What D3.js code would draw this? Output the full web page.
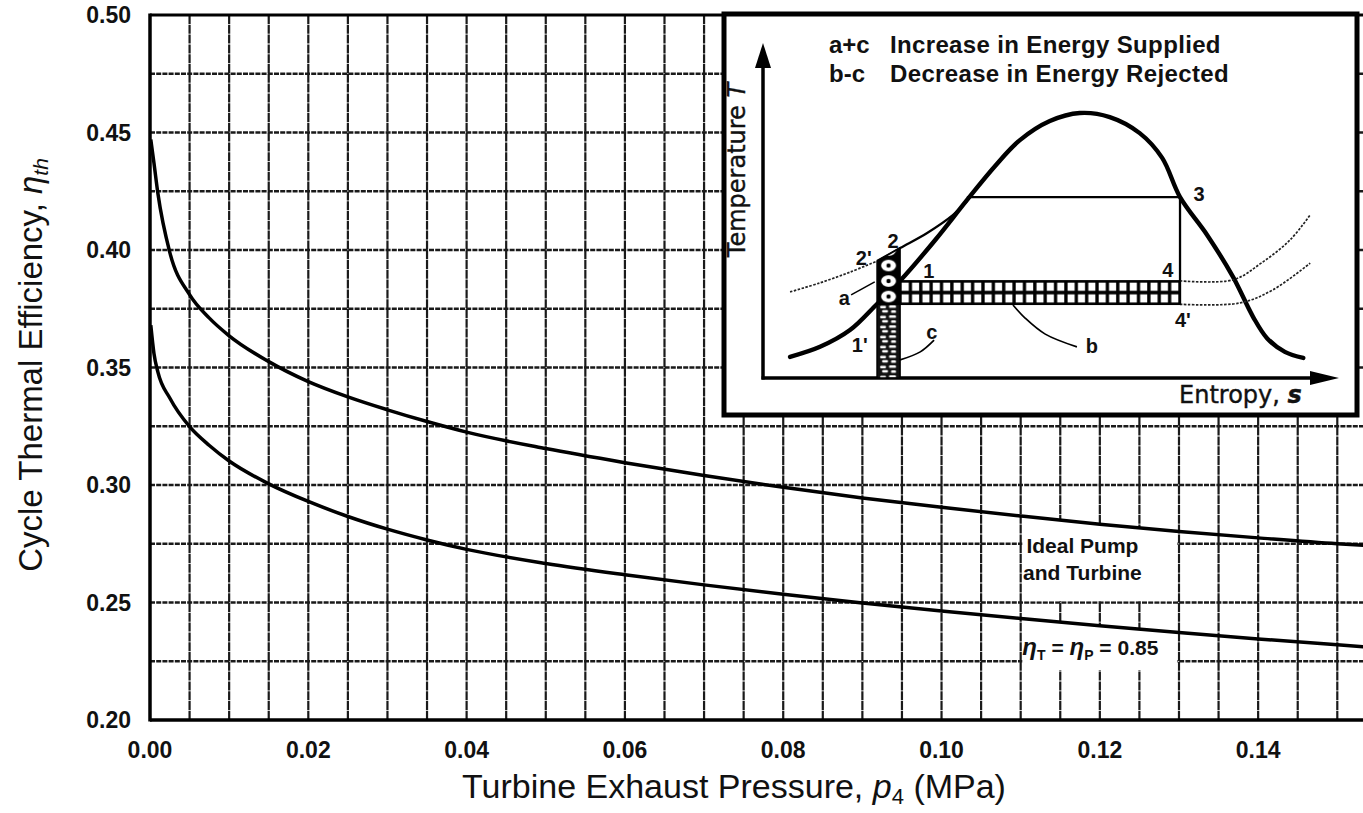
<!DOCTYPE html>
<html>
<head>
<meta charset="utf-8">
<script src="https://cdn.jsdelivr.net/npm/d3@7"></script>
<style>
  html, body { margin: 0; padding: 0; background: #fff; }
  svg { display: block; }
</style>
</head>
<body>
<svg id="chart" width="1363" height="813"></svg>
<script>
// ---- main chart data (p4 in MPa, cycle thermal efficiency) ----
const pressure  = [0.0001, 0.0005, 0.001, 0.0025, 0.005, 0.0075, 0.01, 0.015, 0.02, 0.025, 0.03, 0.035, 0.04, 0.05, 0.06, 0.07, 0.08, 0.09, 0.10, 0.11, 0.12, 0.13, 0.14, 0.15, 0.155];
const etaIdeal  = [0.447, 0.437, 0.424, 0.399, 0.381, 0.371, 0.3635, 0.3525, 0.344, 0.3375, 0.332, 0.327, 0.3225, 0.3155, 0.3095, 0.304, 0.299, 0.2945, 0.2905, 0.2868, 0.2833, 0.2802, 0.2775, 0.2750, 0.2740];
const etaReal   = [0.368, 0.356, 0.348, 0.337, 0.3248, 0.3168, 0.3102, 0.3005, 0.2930, 0.2866, 0.2812, 0.2766, 0.2726, 0.2666, 0.2618, 0.2575, 0.2535, 0.2498, 0.2464, 0.2432, 0.2401, 0.2372, 0.2345, 0.2320, 0.2308];
const xTicks = [0.00, 0.02, 0.04, 0.06, 0.08, 0.10, 0.12, 0.14];
const yTicks = [0.20, 0.25, 0.30, 0.35, 0.40, 0.45, 0.50];

// ---- inset T-s sketch (entropy s, temperature T on a 0..100 sketch scale) ----
const domeS = [4.7, 9.9, 15.1, 19.8, 23.8, 29.9, 35.4, 40.3, 44.6, 49.8, 55.0, 60.2, 65.4, 69.3, 72.4, 77.1, 81.6, 85.1, 87.5, 90.6, 93.8];
const domeT = [6.3, 9.3, 14.3, 22.1, 29.0, 41.2, 53.1, 63.3, 71.0, 76.7, 79.1, 77.9, 73.1, 65.7, 54.0, 42.7, 30.2, 18.2, 11.9, 7.8, 6.0];
const heatS = [4.7, 9.9, 15.1, 19.8, 23.8, 28.5, 33.0, 35.4];
const heatT = [25.7, 28.4, 31.6, 34.9, 38.8, 43.3, 48.7, 52.8];
const cycle = { s1: 23.8, sBoil: 35.4, s3: 72.4, sPump: 19.8, T3: 54.0, T4: 29.0, T4p: 22.0 };
const isoUpS = [72.4, 81.6, 86.5, 91.5, 95.0], isoUpT = [29.0, 29.3, 34.3, 41.2, 48.7];
const isoLoS = [72.4, 82.8, 88.5, 95.0],       isoLoT = [22.0, 22.4, 26.3, 34.3];
const leaderA = [[15.3, 24.8], [19.4, 28.7]];
const leaderC = [[23.8, 5.4], [27.3, 7.8], [29.7, 11.3]];
const leaderB = [[43.4, 21.8], [45.5, 17.9], [49.0, 13.1], [54.5, 9.3]];
const pointLabels = [
  { text: "2'", s: 17.5, T: 35.8 }, { text: "2", s: 22.6, T: 40.9 },
  { text: "1", s: 28.8, T: 31.9 },  { text: "a", s: 14.1, T: 23.9 },
  { text: "1'", s: 16.8, T: 9.9 },  { text: "c", s: 29.3, T: 13.7 },
  { text: "b", s: 57.1, T: 9.6 },   { text: "3", s: 75.7, T: 54.9 },
  { text: "4", s: 70.3, T: 32.2 },  { text: "4'", s: 72.9, T: 17.3 }
];
const legendKeys  = ["a+c", "b-c"];
const legendTexts = ["Increase in Energy Supplied", "Decrease in Energy Rejected"];

const svg = d3.select("#chart");
const defs = svg.append("defs");

const x = d3.scaleLinear().domain([0, 0.1535]).range([150, 1365]);
const y = d3.scaleLinear().domain([0.20, 0.50]).range([720, 15]);

// grid
const grid = svg.append("g");
grid.selectAll("line.v").data(d3.range(1, 31).map(i => i * 0.005)).enter()
  .append("line").attr("class", "v")
  .attr("x1", d => x(d)).attr("x2", d => x(d))
  .attr("y1", y(0.5)).attr("y2", y(0.2))
  .attr("stroke", "#1a1a1a").attr("stroke-width", 2.2).attr("stroke-dasharray", "9 0.8");
grid.selectAll("line.h").data(d3.range(1, 12).map(i => 0.20 + i * 0.025)).enter()
  .append("line").attr("class", "h")
  .attr("x1", x(0)).attr("x2", 1363)
  .attr("y1", d => y(d)).attr("y2", d => y(d))
  .attr("stroke", "#1a1a1a").attr("stroke-width", 2.3).attr("stroke-dasharray", "5 1.2");

// white boxes behind the curve labels
const pts = (arr) => pressure.map((p, i) => ({ p, v: arr[i] })).filter(d => d.p >= 0.11 && d.p <= 0.13);
defs.append("clipPath").attr("id", "labClip").append("rect")
  .attr("x", x(0.11) + 1.6).attr("width", x(0.13) - x(0.11) - 3.2)
  .attr("y", 0).attr("height", 813);
const maskArea = (y0) => d3.area().x(d => x(d.p)).y0(y(y0)).y1(d => y(d.v));
svg.append("path").datum(pts(etaIdeal)).attr("d", maskArea(0.2505))
  .attr("fill", "#fff").attr("clip-path", "url(#labClip)");
svg.append("path").datum(pts(etaReal)).attr("d", maskArea(0.2212))
  .attr("fill", "#fff").attr("clip-path", "url(#labClip)");

// frame
svg.append("line").attr("x1", x(0)).attr("x2", 1363).attr("y1", y(0.5)).attr("y2", y(0.5))
  .attr("stroke", "#000").attr("stroke-width", 3);
svg.append("line").attr("x1", x(0)).attr("x2", 1363).attr("y1", y(0.2)).attr("y2", y(0.2))
  .attr("stroke", "#000").attr("stroke-width", 3.5);
svg.append("line").attr("x1", x(0)).attr("x2", x(0)).attr("y1", y(0.5) - 1.5).attr("y2", y(0.2) + 1.5)
  .attr("stroke", "#000").attr("stroke-width", 3.5);

// curves
const line = d3.line().x(d => x(d.p)).y(d => y(d.v)).curve(d3.curveMonotoneX);
[etaIdeal, etaReal].forEach(arr => {
  svg.append("path").datum(pressure.map((p, i) => ({ p, v: arr[i] })))
    .attr("d", line).attr("fill", "none").attr("stroke", "#000").attr("stroke-width", 3.5);
});

// tick labels
svg.append("g").selectAll("text").data(xTicks).enter().append("text")
  .attr("x", d => x(d)).attr("y", 758).attr("text-anchor", "middle")
  .attr("font-family", "Liberation Sans, Arial, sans-serif").attr("font-weight", "bold")
  .attr("font-size", 23).attr("fill", "#111").text(d => d.toFixed(2));
svg.append("g").selectAll("text").data(yTicks).enter().append("text")
  .attr("x", 131).attr("y", d => y(d) + 8).attr("text-anchor", "end")
  .attr("font-family", "Liberation Sans, Arial, sans-serif").attr("font-weight", "bold")
  .attr("font-size", 23).attr("fill", "#111").text(d => d.toFixed(2));

// axis titles
const xt = svg.append("text").attr("x", 734).attr("y", 798).attr("text-anchor", "middle")
  .attr("font-family", "Liberation Sans, Arial, sans-serif").attr("font-size", 34).attr("fill", "#111");
xt.append("tspan").text("Turbine Exhaust Pressure, ");
xt.append("tspan").attr("font-style", "italic").text("p");
xt.append("tspan").attr("font-size", 22).attr("dy", 6).text("4");
xt.append("tspan").attr("dy", -6).text(" (MPa)");

const yt = svg.append("text").attr("transform", "translate(42,365) rotate(-90)").attr("text-anchor", "middle")
  .attr("font-family", "Liberation Sans, Arial, sans-serif").attr("font-size", 33).attr("fill", "#111");
yt.append("tspan").text("Cycle Thermal Efficiency, ");
yt.append("tspan").attr("font-style", "italic").text("η");
yt.append("tspan").attr("font-size", 21).attr("dy", 6).attr("font-style", "italic").text("th");

// curve annotations
const ann = svg.append("g").attr("font-family", "Liberation Sans, Arial, sans-serif")
  .attr("font-weight", "bold").attr("font-size", 21).attr("fill", "#111").attr("text-anchor", "middle");
ann.append("text").attr("x", x(0.1178)).attr("y", 553).text("Ideal Pump");
ann.append("text").attr("x", x(0.1178)).attr("y", 580).text("and Turbine");
const etaLab = ann.append("text").attr("x", x(0.1188)).attr("y", 655);
etaLab.append("tspan").attr("font-style", "italic").attr("font-size", 24).text("η");
etaLab.append("tspan").attr("font-size", 14).attr("dy", 5).text("T");
etaLab.append("tspan").attr("dy", -5).text(" = ");
etaLab.append("tspan").attr("font-style", "italic").attr("font-size", 24).text("η");
etaLab.append("tspan").attr("font-size", 14).attr("dy", 5).text("P");
etaLab.append("tspan").attr("dy", -5).text(" = 0.85");

// ---- inset ----
const sS = d3.scaleLinear().domain([0, 100]).range([763, 1339]);
const sT = d3.scaleLinear().domain([0, 100]).range([378, 43]);
const inset = svg.append("g");
inset.append("rect").attr("x", 724).attr("y", 14).attr("width", 633).attr("height", 401)
  .attr("fill", "#fff").attr("stroke", "#000").attr("stroke-width", 5);

// patterns
const cellW = (sS(cycle.s3) - sS(cycle.s1)) / 27, cellH = (sT(cycle.T4p) - sT(cycle.T4)) / 2;
const pb = defs.append("pattern").attr("id", "hatchB").attr("patternUnits", "userSpaceOnUse")
  .attr("x", sS(cycle.s1)).attr("y", sT(cycle.T4)).attr("width", cellW).attr("height", cellH);
pb.append("rect").attr("width", cellW).attr("height", cellH).attr("fill", "#000");
pb.append("rect").attr("x", 1.6).attr("y", 1.8).attr("width", cellW - 3.3).attr("height", cellH - 3.6).attr("fill", "#fff");

const stripW = sS(cycle.s1) - sS(cycle.sPump);
const pa = defs.append("pattern").attr("id", "dotsA").attr("patternUnits", "userSpaceOnUse")
  .attr("x", sS(cycle.sPump)).attr("y", sT(cycle.T4p)).attr("width", stripW).attr("height", 15.5);
pa.append("rect").attr("width", stripW).attr("height", 15.5).attr("fill", "#000");
pa.append("ellipse").attr("cx", stripW / 2).attr("cy", 7.7).attr("rx", 7.5).attr("ry", 5.8).attr("fill", "#fff");
pa.append("circle").attr("cx", stripW / 2).attr("cy", 7.7).attr("r", 2.2).attr("fill", "#000");

const pc = defs.append("pattern").attr("id", "speckC").attr("patternUnits", "userSpaceOnUse")
  .attr("x", sS(cycle.sPump)).attr("y", sT(cycle.T4p)).attr("width", stripW).attr("height", 10);
pc.append("rect").attr("width", stripW).attr("height", 10).attr("fill", "#111");
[[3, 1.5, 6, 2.4], [12, 1, 7, 2.6], [5, 5.8, 6, 2.4], [14, 6, 5, 2.6]].forEach(r =>
  pc.append("rect").attr("x", r[0]).attr("y", r[1]).attr("width", r[2]).attr("height", r[3]).attr("rx", 1.2).attr("fill", "#fff"));

// axes with arrows
inset.append("line").attr("x1", sS(0)).attr("x2", sS(0)).attr("y1", sT(0) + 1.5).attr("y2", sT(93))
  .attr("stroke", "#000").attr("stroke-width", 3.5);
inset.append("line").attr("x1", sS(0) - 1.5).attr("x2", sS(95)).attr("y1", sT(0)).attr("y2", sT(0))
  .attr("stroke", "#000").attr("stroke-width", 3.5);
inset.append("path").attr("d", `M${sS(0)},${sT(100)} L${sS(0) - 8},${sT(100) + 25} L${sS(0) + 8},${sT(100) + 25} Z`).attr("fill", "#000");
inset.append("path").attr("d", `M${sS(100)},${sT(0)} L${sS(100) - 29},${sT(0) - 7} L${sS(100) - 29},${sT(0) + 7} Z`).attr("fill", "#000");

const sketch = d3.line().x(d => sS(d[0])).y(d => sT(d[1]));
const smooth = d3.line().x(d => sS(d[0])).y(d => sT(d[1])).curve(d3.curveCatmullRom.alpha(0.5));
const zip = (a, b) => a.map((v, i) => [v, b[i]]);

// constant-pressure heating line 2'-2 -> boiling (dotted left of the pump)
const heat = zip(heatS, heatT);
inset.append("path").attr("d", smooth(heat.slice(0, 4))).attr("fill", "none")
  .attr("stroke", "#222").attr("stroke-width", 1.7).attr("stroke-dasharray", "2.5 1.5");
inset.append("path").attr("d", smooth(heat.slice(3))).attr("fill", "none")
  .attr("stroke", "#000").attr("stroke-width", 2.3);

// saturation dome
inset.append("path").attr("d", smooth(zip(domeS, domeT))).attr("fill", "none")
  .attr("stroke", "#000").attr("stroke-width", 4.4).attr("stroke-linecap", "round");

// boiling line and turbine expansion
inset.append("path").attr("d", sketch([[cycle.sBoil, cycle.T3], [cycle.s3, cycle.T3], [cycle.s3, cycle.T4p]]))
  .attr("fill", "none").attr("stroke", "#000").attr("stroke-width", 2.3);

// condenser pressure lines outside the dome
[zip(isoUpS, isoUpT), zip(isoLoS, isoLoT)].forEach(d =>
  inset.append("path").attr("d", smooth(d)).attr("fill", "none")
    .attr("stroke", "#222").attr("stroke-width", 1.7).attr("stroke-dasharray", "2.5 1.5"));

// shaded areas
inset.append("rect").attr("x", sS(cycle.s1)).attr("y", sT(cycle.T4))
  .attr("width", sS(cycle.s3) - sS(cycle.s1)).attr("height", sT(cycle.T4p) - sT(cycle.T4))
  .attr("fill", "url(#hatchB)").attr("stroke", "#000").attr("stroke-width", 1.5);
inset.append("path").attr("d", sketch([[cycle.sPump, cycle.T4p], [heatS[3], heatT[3]], [heatS[4], heatT[4]], [cycle.s1, cycle.T4p]]) + "Z")
  .attr("fill", "url(#dotsA)").attr("stroke", "#000").attr("stroke-width", 1.5);
inset.append("rect").attr("x", sS(cycle.sPump)).attr("y", sT(cycle.T4p))
  .attr("width", stripW).attr("height", sT(0) - sT(cycle.T4p))
  .attr("fill", "url(#speckC)").attr("stroke", "#000").attr("stroke-width", 1.5);

// leader lines
inset.append("path").attr("d", sketch(leaderA)).attr("fill", "none").attr("stroke", "#000").attr("stroke-width", 1.5);
[leaderC, leaderB].forEach(d =>
  inset.append("path").attr("d", smooth(d)).attr("fill", "none").attr("stroke", "#000").attr("stroke-width", 1.7));

// point labels
inset.append("g").selectAll("text").data(pointLabels).enter().append("text")
  .attr("x", d => sS(d.s)).attr("y", d => sT(d.T) + 7).attr("text-anchor", "middle")
  .attr("font-family", "Liberation Sans, Arial, sans-serif").attr("font-weight", "bold")
  .attr("font-size", 20).attr("fill", "#111").text(d => d.text);

// axis labels
const tl = inset.append("text").attr("transform", "translate(745,170) rotate(-90)").attr("text-anchor", "middle")
  .attr("font-family", "DejaVu Sans, sans-serif").attr("font-size", 24).attr("fill", "#111")
  .attr("stroke", "#111").attr("stroke-width", 0.4);
tl.append("tspan").text("Temperature ");
tl.append("tspan").attr("font-style", "italic").text("T");
const sl = inset.append("text").attr("x", 1179).attr("y", 403)
  .attr("font-family", "DejaVu Sans, sans-serif").attr("font-size", 24).attr("fill", "#111")
  .attr("stroke", "#111").attr("stroke-width", 0.4);
sl.append("tspan").text("Entropy, ");
sl.append("tspan").attr("font-style", "italic").attr("font-weight", "bold").text("s");

// legend
const lg = inset.append("g").attr("font-family", "Liberation Sans, Arial, sans-serif").attr("font-weight", "bold")
  .attr("font-size", 24).attr("fill", "#111");
legendKeys.forEach((k, i) => {
  lg.append("text").attr("x", 829).attr("y", 53 + i * 29).text(k);
  lg.append("text").attr("x", 890).attr("y", 53 + i * 29).attr("letter-spacing", 0.35).text(legendTexts[i]);
});
</script>
</body>
</html>
